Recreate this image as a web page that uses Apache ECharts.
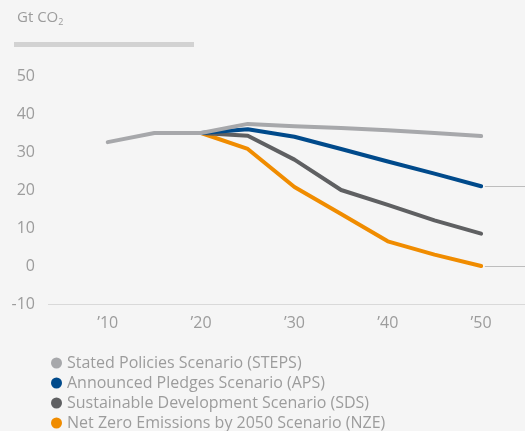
<!DOCTYPE html>
<html>
<head>
<meta charset="utf-8">
<script src="https://cdn.jsdelivr.net/npm/echarts@6/dist/echarts.min.js"></script>
<style>
  html, body { margin: 0; padding: 0; background: #f5f5f5; }
  #chart { width: 525px; height: 431px; }
</style>
</head>
<body>
<div id="chart"></div>
<script>
// 数据
const years = [2010, 2015, 2020, 2025, 2030, 2035, 2040, 2045, 2050];
const tickYears = [2010, 2020, 2030, 2040, 2050];
const steps = [32.6, 35.0, 35.0, 37.4, 36.8, 36.3, 35.7, 35.0, 34.2];
const aps = [null, null, 35.0, 36.0, 34.0, 30.8, 27.5, 24.3, 21.0];
const sds = [null, null, 35.0, 34.3, 28.0, 20.0, 16.1, 12.0, 8.5];
const nze = [null, null, 35.0, 30.8, 20.8, 13.7, 6.5, 3.0, 0.0];
const names = [
    'Stated Policies Scenario (STEPS)',
    'Announced Pledges Scenario (APS)',
    'Sustainable Development Scenario (SDS)',
    'Net Zero Emissions by 2050 Scenario (NZE)',
];
const colors = ['#a7a8ab', '#004a8b', '#5f6062', '#f08c00'];

const font = 'Open Sans';
const xMin = 2003.6, xMax = 2054.7;

function toPairs(vals) {
    const out = [];
    vals.forEach((v, i) => { if (v !== null) out.push([years[i], v]); });
    return out;
}

function leader(v) {
    // 右侧的细引导线
    return {
        silent: true,
        symbol: 'none',
        label: { show: false },
        lineStyle: { color: '#bdbdbd', width: 1, type: 'solid' },
        data: [[{ coord: [2050.4, v] }, { coord: [xMax, v] }]],
    };
}

function lineSeries(idx, vals, z, extra) {
    return Object.assign({
        name: names[idx],
        type: 'line',
        data: toPairs(vals),
        symbol: 'none',
        z: z,
        lineStyle: { width: 4, color: colors[idx], cap: 'round', join: 'round' },
        itemStyle: { color: colors[idx] },
    }, extra || {});
}

const option = {
    backgroundColor: '#f5f5f5',
    animation: false,
    color: colors,
    title: {
        text: 'Gt CO{sub|2}',
        left: 12,
        top: 3,
        textStyle: {
            fontFamily: font,
            fontSize: 15,
            fontWeight: 'normal',
            color: '#9c9c9c',
            rich: {
                sub: { fontFamily: font, fontSize: 9, color: '#9c9c9c', verticalAlign: 'bottom', padding: [10, 0, 0, 0] },
            },
        },
    },
    graphic: [{
        type: 'rect',
        left: 14,
        top: 42,
        shape: { width: 180, height: 5 },
        style: { fill: '#d2d2d2' },
    }],
    legend: {
        data: names,
        orient: 'vertical',
        left: 46,
        top: 349,
        height: 90,
        icon: 'circle',
        itemWidth: 11,
        itemHeight: 11,
        itemGap: 2,
        textStyle: { fontFamily: font, fontSize: 16, color: '#9c9c9c', lineHeight: 18 },
    },
    grid: { left: 48, right: 0, top: 76, bottom: 127 },
    xAxis: {
        type: 'value',
        min: xMin,
        max: xMax,
        axisLine: { show: false },
        axisTick: { show: false },
        splitLine: { show: false },
        axisLabel: {
            customValues: tickYears,
            formatter: v => '\u2019' + String(v).slice(2),
            fontFamily: font,
            fontSize: 16,
            color: '#9c9c9c',
            margin: 11,
        },
    },
    yAxis: {
        type: 'value',
        min: -10,
        max: 50,
        interval: 10,
        axisLine: { show: false },
        axisTick: { show: false },
        splitLine: { show: false },
        axisLabel: { fontFamily: font, fontSize: 16, color: '#9c9c9c', margin: 13 },
    },
    series: [
        lineSeries(3, nze, 2, { markLine: leader(0) }),
        lineSeries(2, sds, 3),
        lineSeries(1, aps, 4, { markLine: leader(21) }),
        lineSeries(0, steps, 5),
        {
            // 底部基线
            type: 'line',
            data: [],
            markLine: {
                silent: true,
                symbol: 'none',
                label: { show: false },
                lineStyle: { color: '#d9d9d9', width: 1, type: 'solid' },
                data: [[{ coord: [xMin, -10] }, { coord: [xMax, -10] }]],
            },
        },
    ],
};

const chart = echarts.init(document.getElementById('chart'));
chart.setOption(option);
</script>
</body>
</html>
